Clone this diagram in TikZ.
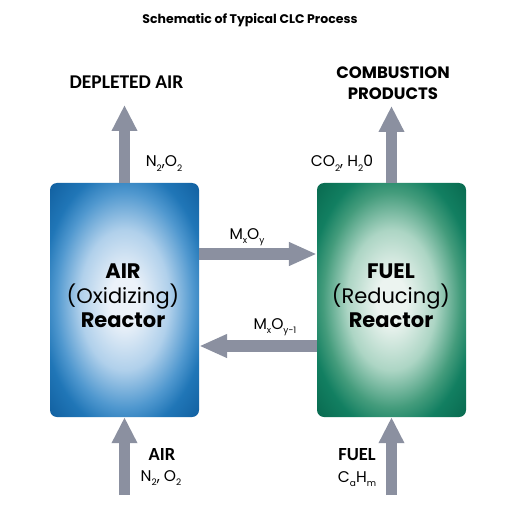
\documentclass[tikz,border=0pt]{standalone}
\usepackage{fontspec}
\setmainfont{Poppins}
\newfontfamily\calib{Carlito}
\usetikzlibrary{arrows.meta}
\newcommand\lowsub[1]{\raisebox{-0.32em}{\fontsize{9}{9}\selectfont #1}}
\definecolor{arrowgray}{RGB}{139,144,160}
\definecolor{bluein}{RGB}{236,242,249}
\definecolor{bluelight}{RGB}{176,208,235}
\definecolor{bluemid}{RGB}{80,152,207}
\definecolor{blueout}{RGB}{32,118,183}
\definecolor{bluecorner}{RGB}{16,94,158}
\definecolor{greenin}{RGB}{236,244,240}
\definecolor{greenlight}{RGB}{172,213,196}
\definecolor{greenmid}{RGB}{68,156,124}
\definecolor{greenout}{RGB}{18,127,97}
\definecolor{greencorner}{RGB}{8,104,78}
\pgfdeclareradialshading{blueglow}{\pgfpoint{0bp}{0bp}}{color(0bp)=(bluein); color(5bp)=(bluein); color(15bp)=(bluelight); color(23bp)=(bluemid); color(28bp)=(blueout); color(36bp)=(bluecorner); color(50bp)=(bluecorner)}
\pgfdeclareradialshading{greenglow}{\pgfpoint{0bp}{0bp}}{color(0bp)=(greenin); color(5bp)=(greenin); color(15bp)=(greenlight); color(23bp)=(greenmid); color(28bp)=(greenout); color(36bp)=(greencorner); color(50bp)=(greencorner)}
\begin{document}
\begin{tikzpicture}[x=1pt,y=-1pt,
  reactor/.style={minimum width=149pt, minimum height=234pt, rounded corners=7pt, inner sep=0pt, shade},
  fat/.style={draw=arrowgray, line width=11pt, -{Triangle[width=24pt,length=26pt]}},
  fatmid/.style={draw=arrowgray, line width=12pt, -{Triangle[width=22pt,length=28pt]}},
  lbl/.style={inner sep=0pt, font={\fontsize{15.5}{18}\selectfont}},
  headlbl/.style={inner sep=0pt, align=center, font={\calib\bfseries\fontsize{19.5}{21}\selectfont}},
  boxtxt/.style={inner sep=0pt, align=center, font={\fontsize{21}{24.5}\selectfont}},
]
\useasboundingbox[fill=white] (0,0) rectangle (520,521);
\node[inner sep=0pt, font={\bfseries\fontsize{12.5}{14}\selectfont}] (title) at (250,20) {Schematic of Typical CLC Process};

\node[reactor, shading=blueglow] (airbox) at (124.5,300) {};
\node[reactor, shading=greenglow] (fuelbox) at (391.5,300) {};
\node[boxtxt] (airtxt) at (123,296) {\textbf{AIR}\\(Oxidizing)\\\textbf{Reactor}};
\node[boxtxt] (fueltxt) at (391,296) {\textbf{FUEL}\\(Reducing)\\\textbf{Reactor}};

\node[headlbl] (depl) at (126.5,82) {DEPLETED AIR};
\node[inner sep=0pt, align=center, font={\bfseries\fontsize{16.5}{21}\selectfont}] (comb) at (393,83) {COMBUSTION\\PRODUCTS};

\coordinate (deplTip) at (124.5,105);
\coordinate (combTip) at (391.5,106);
\coordinate (airIn) at (124.5,495);
\coordinate (fuelIn) at (391.5,495);

\draw[fat] (airbox.north) -- (deplTip);
\draw[fat] (fuelbox.north) -- (combTip);
\draw[fat] (airIn) -- (airbox.south);
\draw[fat] (fuelIn) -- (fuelbox.south);
\draw[fatmid] (airbox.east |- 0,254) -- (fuelbox.west |- 0,254);
\draw[fatmid] (fuelbox.west |- 0,346) -- (airbox.east |- 0,346);

\node[lbl, anchor=base] (n2o2top) at (164,167) {N\lowsub{2},O\lowsub{2}};
\node[lbl, anchor=base] (coh) at (342,167) {CO\lowsub{2}, H\lowsub{2}0};
\node[lbl, anchor=base] (mxoy) at (247,239) {M\lowsub{x}O\lowsub{y}};
\node[lbl, anchor=base] (mxoy1) at (275,329) {M\lowsub{x}O\lowsub{y-1}};
\node[headlbl, font={\calib\bfseries\fontsize{18.5}{21}\selectfont}] (airlbl) at (162,454) {AIR};
\node[lbl, anchor=base] (n2o2bot) at (161,481) {N\lowsub{2}, O\lowsub{2}};
\node[headlbl, font={\calib\bfseries\fontsize{18.5}{21}\selectfont}] (fuellbl) at (357,455) {FUEL};
\node[lbl, anchor=base] (cahm) at (357,482) {C\lowsub{a}H\lowsub{m}};
\end{tikzpicture}
\end{document}
